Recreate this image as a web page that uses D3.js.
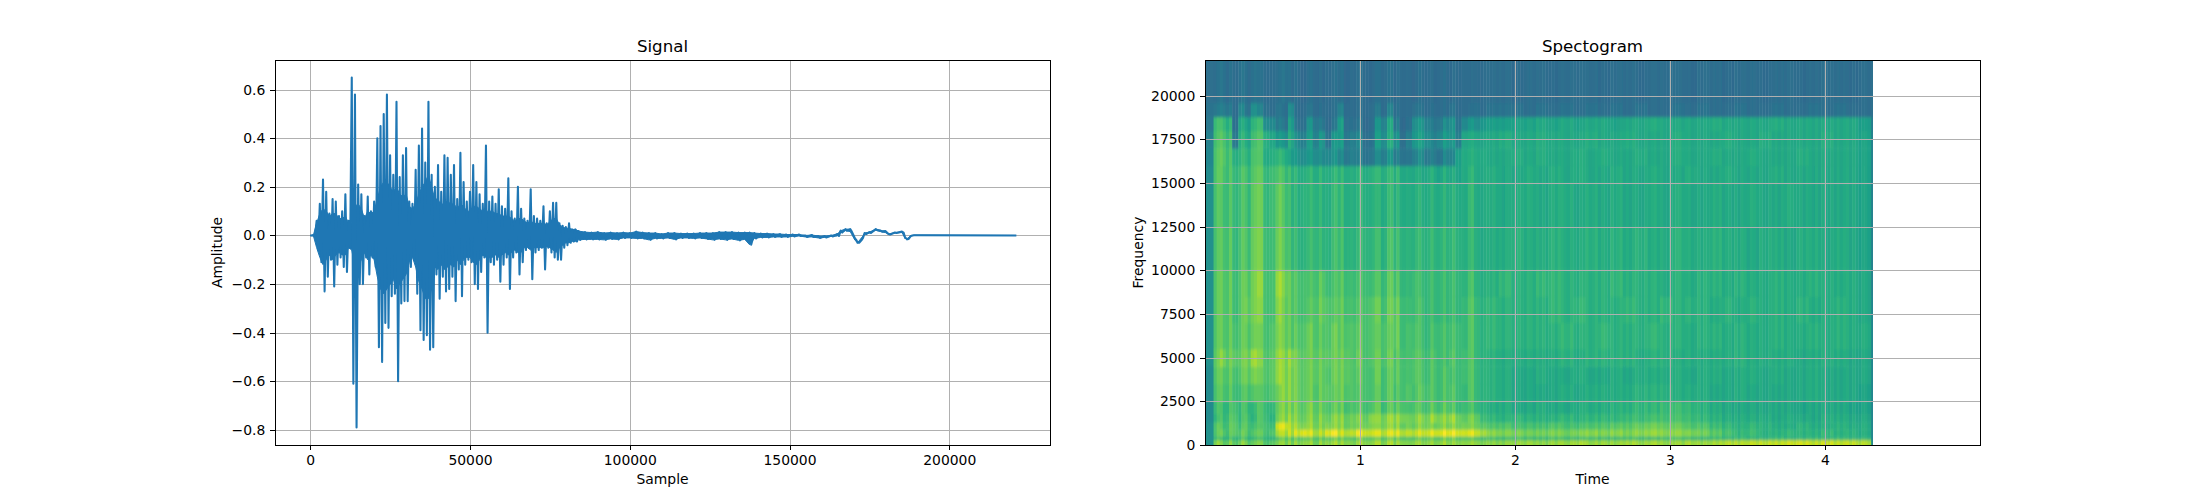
<!DOCTYPE html>
<html>
<head>
<meta charset="utf-8">
<script src="https://cdn.jsdelivr.net/npm/d3@7"></script>
<style>
body { margin: 0; background: #fff; }
text { font-family: "DejaVu Sans", sans-serif; fill: #000; }
</style>
</head>
<body>
<script>
// waveform: sample position, top and bottom of each stroke
const samples = [0, 1000, 2000, 3000, 4000, 5000, 6000, 7000, 8000, 9000, 10000, 11000, 12000, 13000, 14000, 15000, 16000, 17000, 18000, 19000, 20000, 21000, 22000, 23000, 24000, 25000, 26000, 27000, 28000, 29000, 30000, 31000, 32000, 33000, 34000, 35000, 36000, 37000, 38000, 39000, 40000, 41000, 42000, 43000, 44000, 45000, 46000, 47000, 48000, 49000, 50000, 51000, 52000, 53000, 54000, 55000, 56000, 57000, 58000, 59000, 60000, 61000, 62000, 63000, 64000, 65000, 66000, 67000, 68000, 69000, 70000, 71000, 72000, 73000, 74000, 75000, 76000, 77000, 78000, 79000, 80000, 81000, 82000, 83000,
  84000, 86000, 88000, 90000, 92000, 94000, 96000, 98000, 100000, 102000, 104000, 106000, 108000, 110000, 112000, 114000, 116000, 118000, 120000, 122000, 124000, 126000, 128000, 130000, 132000, 134000, 136000, 137500, 139000, 141000, 143000, 145000, 147000, 149000, 151000, 153000, 155000, 157000, 159000, 161000, 163000, 165000, 166000, 167500, 169000, 170500, 171300, 172500, 173500, 175000, 177000, 178500, 180000, 181000, 183000, 185200, 186200, 186800, 188000, 189000, 220500];
const upper = [0, 0.002, 0.06, 0.13, 0.23, 0.18, 0.09, 0.15, 0.14, 0.08, 0.10, 0.17, 0.06, 0.65, 0.58, 0.21, 0.17, 0.08, 0.16, 0.10, 0.14, 0.40, 0.45, 0.50, 0.58, 0.33, 0.25, 0.55, 0.24, 0.33, 0.36, 0.14, 0.13, 0.27, 0.37, 0.44, 0.30, 0.55, 0.25, 0.20, 0.29, 0.18, 0.33, 0.32, 0.25, 0.29, 0.15, 0.34, 0.22, 0.14, 0.18, 0.29, 0.22, 0.17, 0.13, 0.37, 0.14, 0.16, 0.13, 0.19, 0.12, 0.11, 0.235, 0.10, 0.07, 0.20, 0.11, 0.07, 0.06, 0.19, 0.08, 0.07, 0.06, 0.12, 0.05, 0.10, 0.135, 0.135, 0.05, 0.04, 0.035, 0.05, 0.025, 0.025,
  0.018, 0.014, 0.012, 0.014, 0.010, 0.012, 0.010, 0.012, 0.010, 0.016, 0.012, 0.010, 0.010, 0.006, 0.010, 0.010, 0.008, 0.008, 0.008, 0.010, 0.010, 0.010, 0.014, 0.014, 0.014, 0.012, 0.012, 0.012, 0.010, 0.008, 0.008, 0.006, 0.006, 0.004, 0.004, 0.004, 0, 0.002, -0.002, -0.002, 0, 0.006, 0.02, 0.026, 0.026, -0.012, -0.03, -0.02, 0.01, 0.014, 0.026, 0.02, 0.018, 0.006, 0.012, 0.016, -0.01, -0.016, -0.002, 0.001, 0];
const lower = [0, -0.002, -0.06, -0.11, -0.23, -0.17, -0.10, -0.21, -0.12, -0.09, -0.13, -0.15, -0.05, -0.61, -0.79, -0.20, -0.20, -0.09, -0.16, -0.09, -0.13, -0.46, -0.52, -0.36, -0.38, -0.25, -0.24, -0.60, -0.28, -0.27, -0.27, -0.13, -0.10, -0.24, -0.39, -0.43, -0.41, -0.47, -0.46, -0.16, -0.26, -0.17, -0.23, -0.22, -0.17, -0.27, -0.14, -0.25, -0.12, -0.10, -0.11, -0.20, -0.22, -0.15, -0.09, -0.40, -0.11, -0.12, -0.10, -0.19, -0.12, -0.09, -0.22, -0.09, -0.07, -0.16, -0.11, -0.06, -0.05, -0.18, -0.07, -0.06, -0.05, -0.14, -0.05, -0.07, -0.09, -0.10, -0.10, -0.05, -0.04, -0.03, -0.025, -0.025,
  -0.018, -0.016, -0.016, -0.016, -0.018, -0.014, -0.016, -0.010, -0.010, -0.012, -0.012, -0.018, -0.012, -0.012, -0.010, -0.016, -0.010, -0.010, -0.012, -0.010, -0.014, -0.018, -0.014, -0.018, -0.014, -0.020, -0.016, -0.038, -0.012, -0.008, -0.008, -0.006, -0.006, -0.006, -0.004, -0.002, -0.006, -0.006, -0.01, -0.008, -0.004, -0.002, 0.012, 0.02, 0.016, -0.02, -0.03, -0.01, 0.006, 0.01, 0.022, 0.016, 0.012, 0.004, 0.01, 0.012, -0.012, -0.014, 0, 0.001, 0];
// solid middle of the waveform for the dense first part (0 to 83000)
const coreUpper = [0, 0.002, 0.05, 0.09, 0.11, 0.10, 0.08, 0.09, 0.09, 0.07, 0.07, 0.08, 0.05, 0.05, 0.12, 0.13, 0.11, 0.07, 0.10, 0.09, 0.10, 0.15, 0.20, 0.22, 0.22, 0.20, 0.18, 0.20, 0.17, 0.16, 0.17, 0.12, 0.11, 0.13, 0.17, 0.20, 0.22, 0.25, 0.20, 0.15, 0.15, 0.12, 0.14, 0.14, 0.13, 0.13, 0.11, 0.13, 0.12, 0.10, 0.10, 0.12, 0.12, 0.11, 0.10, 0.10, 0.10, 0.10, 0.09, 0.09, 0.08, 0.08, 0.08, 0.07, 0.06, 0.07, 0.07, 0.06, 0.05, 0.06, 0.05, 0.05, 0.05, 0.05, 0.045, 0.055, 0.07, 0.07, 0.045, 0.035, 0.03, 0.03, 0.025, 0.025];
const coreLower = [0, -0.002, -0.05, -0.09, -0.12, -0.10, -0.08, -0.10, -0.08, -0.07, -0.08, -0.08, -0.05, -0.06, -0.13, -0.13, -0.10, -0.07, -0.10, -0.08, -0.10, -0.17, -0.22, -0.24, -0.22, -0.20, -0.18, -0.22, -0.20, -0.18, -0.16, -0.11, -0.09, -0.13, -0.19, -0.22, -0.26, -0.26, -0.22, -0.13, -0.14, -0.12, -0.14, -0.13, -0.12, -0.13, -0.10, -0.12, -0.10, -0.09, -0.09, -0.11, -0.12, -0.10, -0.08, -0.09, -0.09, -0.09, -0.08, -0.09, -0.08, -0.07, -0.08, -0.07, -0.06, -0.07, -0.07, -0.05, -0.05, -0.06, -0.05, -0.05, -0.05, -0.05, -0.045, -0.05, -0.06, -0.07, -0.05, -0.04, -0.03, -0.03, -0.025, -0.025];

const sampleTicks = [0, 50000, 100000, 150000, 200000];
const amplitudeTicks = [-0.8, -0.6, -0.4, -0.2, 0, 0.2, 0.4, 0.6];
const timeTicks = [1, 2, 3, 4];
const freqTicks = [0, 2500, 5000, 7500, 10000, 12500, 15000, 17500, 20000];

// spectrogram cells, colour position 0-100 on viridis
const timeEdges = [0, 0.055, 0.095, 0.135, 0.175, 0.215, 0.255, 0.295, 0.335, 0.375, 0.415, 0.455, 0.495, 0.535, 0.575, 0.615, 0.655, 0.695, 0.735, 0.775, 0.815, 0.855, 0.895, 0.935, 0.975, 1.015, 1.055, 1.095, 1.135, 1.175, 1.215, 1.255, 1.295, 1.335, 1.375, 1.415, 1.455, 1.495, 1.535, 1.575, 1.615, 1.655, 1.695, 1.735, 1.775, 1.815, 1.895, 1.975, 2.055, 2.135, 2.215, 2.295, 2.375, 2.455, 2.535, 2.615, 2.695, 2.775, 2.855, 2.935, 3.015, 3.095, 3.175, 3.255, 3.335, 3.415, 3.495, 3.575, 3.655, 3.735, 3.815, 3.895, 3.975, 4.055, 4.135, 4.215, 4.295, 4.31];
const freqEdges = [0, 300, 500, 900, 1300, 1800, 2500, 3500, 4500, 5500, 7000, 8500, 10000, 12500, 15000, 16000, 17000, 18000, 18800, 19600, 22050];

const band00 = [50, 80,76,78,76,80,76,78,76,74,76, 78,80,80,82,84,82,80,82,84,84, 82,84,82,84,84,82,84,82,84,82, 84,82,84,82,84,82,84,84,82,84, 84,82,84,82, 82,82,84,84,82,84,84,86,84,84, 84,86,84,86,84,84,86,84,86,88, 88,90,90,90,92,92,90,92,90,90,88, 48];
const band01 = [50, 66,64,66,66,68,64,66,64,66,64, 68,72,72,72,74,72,72,72,74,72, 72,74,72,74,74,72,72,72,72,72, 72,72,72,72,74,72,72,74,74,72, 72,70,70,68, 68,66,68,66,66,68,66,66,68,66, 66,68,66,66,68,68,66,64,66,64, 66,64,64,66,64,64,66,64,66,64,64, 46];
const band02 = [50, 72,74,72,76,74,72,74,72,72,74, 84,86,88,92,97,92,88,88,96,98, 90,90,92,97,94,92,92,90,92,92, 90,92,90,92,93,94,95,96,96,95, 94,94,92,88, 82,80,80,78,78,80,78,80,82,80, 82,80,82,84,82,82,80,78,74,70, 66,68,64,64,66,64,64,66,64,64,62, 46];
const band03 = [50, 72,70,72,76,70,72,70,68,72,70, 90,92,86,84,82,82,80,80,82,80, 80,78,80,78,80,80,78,80,80,80, 78,80,78,80,80,78,80,80,80,80, 80,78,78,76, 72,72,70,70,70,72,70,70,72,72, 74,74,76,78,76,76,72,72,68,66, 64,66,64,62,62,64,62,62,64,62,62, 46];
const band04 = [48, 66,68,70,74,68,70,66,68,70,66, 76,80,82,80,78,80,78,80,78,80, 80,78,80,80,78,82,80,80,82,82, 82,80,80,82,80,84,82,82,84,80, 76,78,76,70, 66,64,66,64,64,64,66,64,66,66, 66,68,68,70,70,70,68,66,64,62, 62,62,62,60,62,60,60,62,62,60,60, 46];
const band05 = [48, 68,67,68,72,68,68,67,68,69,68, 74,78,78,78,76,78,76,76,74,74, 74,72,74,72,72,72,74,70,72,72, 74,72,74,72,72,74,72,74,72,70, 70,70,68,66, 62,62,60,60,62,60,60,62,62,62, 64,64,66,66,68,68,66,64,62,60, 60,60,60,60,60,58,60,60,60,58,58, 46];
const band06 = [48, 71,72,72,70,70,72,74,70,72,74, 76,80,80,78,76,76,74,76,76,74, 76,74,74,72,73,71,73,71,73,71, 72,74,72,74,72,72,70,72,72,70, 68,72,68,66, 64,62,60,60,60,60,62,60,62,62, 62,62,64,64,64,62,62,62,60,60, 62,60,60,60,60,60,62,60,60,60,58, 46];
const band07 = [48, 73,74,74,72,74,76,80,74,74,76, 82,80,80,78,76,76,76,76,74,76, 76,76,74,74,73,71,75,71,73,73, 72,72,74,72,70,72,70,72,70,70, 70,72,68,66, 64,62,60,60,62,60,60,62,60,60, 62,60,62,62,62,62,60,62,62,60, 62,62,60,62,60,60,62,60,60,60,60, 46];
const band08 = [50, 75,80,76,76,76,78,86,78,74,76, 82,80,82,78,76,76,76,76,76,76, 76,76,74,76,73,73,75,73,75,73, 72,72,74,72,70,72,70,70,72,70, 70,72,68,66, 64,62,62,62,62,62,64,62,64,64, 64,64,62,64,64,62,62,62,62,62, 64,62,62,62,62,60,62,62,62,60,60, 46];
const band09 = [50, 73,74,74,72,74,74,78,74,72,74, 78,76,74,74,74,76,74,74,74,76, 74,74,74,74,73,73,73,73,73,75, 70,72,72,70,68,70,70,70,70,70, 68,72,68,66, 66,64,64,64,64,64,66,64,64,66, 64,64,64,66,64,64,62,64,64,62, 64,62,62,64,62,62,64,62,64,62,62, 46];
const band10 = [50, 73,74,74,70,74,76,80,78,72,72, 80,76,74,72,72,72,74,76,74,72, 74,72,72,72,73,73,75,71,75,75, 70,70,70,70,68,68,68,68,68,68, 68,72,68,66, 66,64,64,64,64,66,64,66,64,64, 64,66,64,64,66,64,64,64,62,64, 62,64,62,64,62,64,62,62,64,62,60, 46];
const band11 = [50, 73,74,74,70,74,74,80,80,72,72, 83,78,74,72,72,70,72,74,70,70, 72,70,70,70,71,69,71,69,73,71, 68,68,70,68,68,68,68,68,68,68, 66,70,66,64, 64,66,64,64,66,66,64,64,64,64, 66,64,64,64,62,64,62,64,64,62, 64,62,62,64,62,62,64,62,62,62,60, 44];
const band12 = [50, 71,72,72,68,72,70,78,76,70,70, 76,72,68,66,66,66,68,66,66,68, 68,66,66,66,67,65,67,65,69,67, 66,66,66,66,66,66,66,66,66,66, 64,66,64,62, 62,62,64,62,62,64,62,62,64,62, 64,62,64,62,62,64,62,62,64,62, 62,60,62,62,60,62,62,60,62,60,58, 44];
const band13 = [50, 71,70,70,68,70,68,76,74,68,70, 74,70,66,64,66,64,66,64,64,66, 66,64,64,64,65,63,63,63,65,63, 63,63,63,63,63,63,63,63,63,63, 62,66,62,62, 62,60,62,62,60,62,62,60,62,60, 62,60,60,62,60,62,60,60,62,60, 60,62,60,60,62,60,60,60,60,60,58, 44];
const band14 = [48, 72,72,70,68,70,68,74,72,68,70, 70,68,66,64,64,64,64,64,64,64, 64,64,64,64,64,64,64,64,64,64, 62,62,62,60,62,62,60,62,60,60, 62,64,62,62, 62,60,60,62,60,62,60,62,60,60, 62,60,60,62,60,60,62,60,60,62, 60,60,60,62,60,60,60,60,60,60,58, 44];
const band15 = [46, 72,74,70,64,66,64,72,70,62,64, 64,62,56,52,50,52,50,48,48,50, 46,42,44,42,40,40,46,44,50,42, 40,40,44,48,42,42,40,46,44,58, 62,62,62,62, 60,60,62,60,62,60,60,62,60,62, 60,60,62,60,60,62,60,60,62,60, 60,62,60,60,60,62,60,60,60,60,58, 44];
const band16 = [44, 70,72,68,42,64,60,70,70,64,60, 52,50,60,48,44,54,46,52,40,52, 54,42,44,46,38,38,54,50,60,50, 38,44,54,56,50,44,48,54,52,44, 60,60,60,60, 60,62,60,60,62,60,60,60,62,60, 60,62,60,60,60,62,60,60,60,62, 60,60,62,60,60,60,60,62,60,60,58, 44];
const band17 = [40, 68,68,64,38,60,56,66,66,50,48, 40,38,55,38,38,50,42,40,36,38, 55,38,38,38,36,36,50,46,58,40, 36,38,50,52,45,40,42,48,50,40, 48,52,50,54, 56,56,58,58,60,58,60,58,60,60, 58,60,60,62,60,60,60,60,62,60, 60,60,60,62,60,60,60,60,60,60,56, 42];
const band18 = [38, 40,42,40,36,46,38,50,44,38,36, 38,36,48,36,36,38,36,36,36,36, 44,36,36,36,36,36,40,36,44,36, 36,36,38,38,36,36,36,36,38,36, 36,36,38,36, 38,38,38,36,38,36,38,36,38,36, 38,36,38,36,36,38,36,38,36,36, 38,36,36,38,36,36,38,36,38,36,36, 36];
const band19 = [36, 36,38,36,36,38,36,38,36,36,36, 36,38,36,36,35,36,36,35,36,36, 36,35,36,36,36,35,36,36,36,35, 36,36,35,36,36,35,36,36,35,36, 36,35,36,36, 36,36,35,36,36,35,36,36,36,35, 36,36,35,36,36,36,35,36,36,35, 36,36,35,36,36,35,36,36,36,35,36, 36];
const bands = [band00, band01, band02, band03, band04, band05, band06, band07, band08, band09, band10, band11, band12, band13, band14, band15, band16, band17, band18, band19];

// thin vertical streaks on top of the cells, one per 0.02 s from 0.055 s
const streaks = [-1,5,5,-2,-3,5,-1,-3,-2,5, 4,-3,-2,1,6,5,-1,-3,-2,-1, 1,6,5,-2,5,-3,4,-2,-3,-1, 1,5,-2,-3,4,-2,-1,-3,1,5, -1,5,-3,-2,-1,-3,1,5,-2,-3, -1,1,4,4,-3,-1,4,5,-2,5, -2,-3,-1,-2,-3,1,4,-1,-3,-1, 4,-2,-3,-1,4,-2,-1,4,-2,-3, -1,-2,1,4,-1,-2,-3,-1,1,-1,
  2,-2,1,-2,2,2,-1,-2,2,0, -2,2,1,-2,2,-1,2,-2,0,2, -2,2,2,-1,-2,2,0,-2,2,1, 2,-2,-1,2,-2,2,1,-2,2,-2, 0,2,-2,1,-2,2,2,-1,-2,2, -2,1,2,-2,2,-1,-2,2,0,2, 2,-2,1,2,-2,-1,2,-2,2,0, -2,2,-1,2,-2,1,2,-2,2,-2, 2,0,-2,2,1,-2,2,-1,-2,2, -1,2,-2,2,-2,2,0,-2,1,2, -2,2,1,-2,2,-2,2,0,-1,2, -2,2,-2,1,2,-2,2,-1,-2,2, 1,-2];
// how strongly the streaks show in each band, bottom to top
const streakStrength = [1, 1, 1, 1, 1, 1, 0.8, 0.8, 0.8, 0.8, 0.8, 0.8, 0.8, 0.8, 0.8, 0.6, 0.6, 0.6, 0.3, 0.3];
const streakStart = 0.055, streakWidth = 0.02;

const svg = d3.select("body").append("svg").attr("width", 2200).attr("height", 500);

const top_ = 60, bottom = 445, plotH = bottom - top_;
const left1 = 275, left2 = 1205, plotW = 775;

const x1 = d3.scaleLinear().domain([-11025, 231525]).range([left1, left1 + plotW]);
const y1 = d3.scaleLinear().domain([-0.862, 0.722]).range([bottom, top_]);
const x2 = d3.scaleLinear().domain([0, 5]).range([left2, left2 + plotW]);
const y2 = d3.scaleLinear().domain([0, 22050]).range([bottom, top_]);
const colour = d3.scaleSequential(d3.interpolateViridis).domain([0, 100]).clamp(true);

function grid(x, y, xTicks, yTicks) {
  svg.append("g").attr("transform", `translate(0,${bottom})`)
    .call(d3.axisBottom(x).tickValues(xTicks).tickSize(-plotH).tickFormat(""))
    .call(g => g.select(".domain").remove())
    .selectAll("line").attr("stroke", "#b0b0b0").attr("stroke-width", 1).attr("shape-rendering", "crispEdges");
  svg.append("g").attr("transform", `translate(${x.range()[0]},0)`)
    .call(d3.axisLeft(y).tickValues(yTicks).tickSize(-plotW).tickFormat(""))
    .call(g => g.select(".domain").remove())
    .selectAll("line").attr("stroke", "#b0b0b0").attr("stroke-width", 1).attr("shape-rendering", "crispEdges");
}

function frame(x, y, xTicks, yTicks, yFormat, title, xLabel, yLabel, yLabelX) {
  const left = x.range()[0];
  const gx = svg.append("g").attr("transform", `translate(0,${bottom})`)
    .call(d3.axisBottom(x).tickValues(xTicks).tickSize(4.86).tickPadding(4.86).tickFormat(d3.format("d")));
  const gy = svg.append("g").attr("transform", `translate(${left},0)`)
    .call(d3.axisLeft(y).tickValues(yTicks).tickSize(4.86).tickPadding(4.86).tickFormat(yFormat));
  [gx, gy].forEach(g => {
    g.select(".domain").remove();
    g.selectAll("line").attr("stroke", "#000").attr("stroke-width", 1).attr("shape-rendering", "crispEdges");
    g.selectAll("text").style("font-family", '"DejaVu Sans"').style("font-size", "13.9px");
  });
  svg.append("rect").attr("x", left + 0.5).attr("y", top_ + 0.5).attr("width", plotW).attr("height", plotH)
    .attr("fill", "none").attr("stroke", "#000").attr("stroke-width", 1).attr("shape-rendering", "crispEdges");
  svg.append("text").attr("x", left + plotW / 2).attr("y", 51.5).attr("text-anchor", "middle")
    .style("font-size", "16.67px").text(title);
  svg.append("text").attr("x", left + plotW / 2).attr("y", 483.5).attr("text-anchor", "middle")
    .style("font-size", "13.9px").text(xLabel);
  svg.append("text").attr("transform", `translate(${yLabelX},${(top_ + bottom) / 2}) rotate(-90)`)
    .attr("text-anchor", "middle").style("font-size", "13.9px").text(yLabel);
}

// Signal
grid(x1, y1, sampleTicks, amplitudeTicks);

const area = d3.area()
  .x(d => x1(d))
  .y0((d, i) => y1(i < coreLower.length ? coreLower[i] : lower[i]))
  .y1((d, i) => y1(i < coreUpper.length ? coreUpper[i] : upper[i]));
svg.append("path").attr("d", area(samples)).attr("fill", "#1f77b4")
  .attr("stroke", "#1f77b4").attr("stroke-width", 1);

const strokes = samples.flatMap((s, i) => [[s, upper[i]], [s + 500, lower[i]]]);
const line = d3.line().x(d => x1(d[0])).y(d => y1(d[1]));
svg.append("path").attr("d", line(strokes))
  .attr("fill", "none").attr("stroke", "#1f77b4").attr("stroke-width", 2.08).attr("stroke-linejoin", "round");

frame(x1, y1, sampleTicks, amplitudeTicks, d3.format(".1f"), "Signal", "Sample", "Amplitude", 221.5);

// Spectogram
const defs = svg.append("defs");
defs.append("filter").attr("id", "smooth")
  .attr("filterUnits", "userSpaceOnUse").attr("x", 1190).attr("y", 40).attr("width", 720).attr("height", 420)
  .append("feGaussianBlur").attr("stdDeviation", "0.7 1.6");
defs.append("clipPath").attr("id", "imageClip").append("rect")
  .attr("x", x2(0)).attr("y", top_).attr("width", x2(4.31) - x2(0)).attr("height", plotH);

const cells = svg.append("g").attr("clip-path", "url(#imageClip)")
  .append("g").attr("filter", "url(#smooth)");
const lastCol = timeEdges.length - 2;
bands.forEach((band, r) => {
  const bleedT = r === bands.length - 1 ? 8 : 0, bleedB = r === 0 ? 8 : 0;
  const rowY = y2(freqEdges[r + 1]) - bleedT;
  const rowH = y2(freqEdges[r]) - y2(freqEdges[r + 1]) + bleedT + bleedB;
  // first and last columns stay whole, the rest is cut into streaks
  cells.append("rect").attr("x", x2(0) - 8).attr("width", x2(timeEdges[1]) - x2(0) + 8)
    .attr("y", rowY).attr("height", rowH).attr("fill", colour(band[0])).attr("shape-rendering", "crispEdges");
  cells.append("rect").attr("x", x2(timeEdges[lastCol])).attr("width", x2(timeEdges[lastCol + 1]) - x2(timeEdges[lastCol]) + 8)
    .attr("y", rowY).attr("height", rowH).attr("fill", colour(band[lastCol])).attr("shape-rendering", "crispEdges");
  cells.selectAll(null).data(streaks).enter().append("rect")
    .attr("x", (d, s) => x2(streakStart + s * streakWidth))
    .attr("width", x2(streakWidth) - x2(0) + 0.4)
    .attr("y", rowY).attr("height", rowH + 0.4)
    .attr("fill", (d, s) => colour(band[d3.bisectRight(timeEdges, streakStart + (s + 0.5) * streakWidth) - 1] + d * streakStrength[r]));
});

grid(x2, y2, timeTicks, freqTicks);
frame(x2, y2, timeTicks, freqTicks, d3.format("d"), "Spectogram", "Time", "Frequency", 1143);
</script>
</body>
</html>
